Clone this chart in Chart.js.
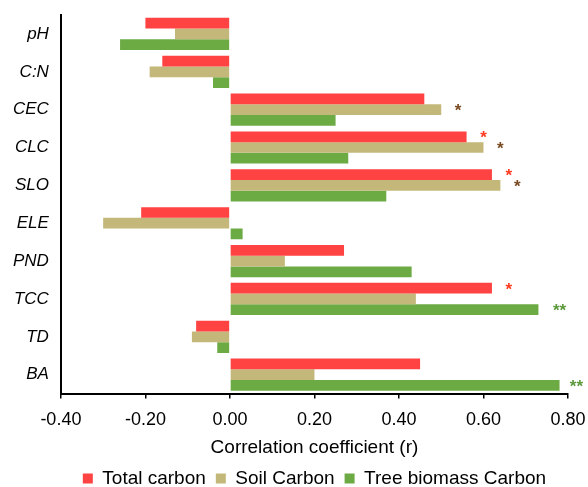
<!DOCTYPE html>
<html>
<head>
<meta charset="utf-8">
<script src="https://cdn.jsdelivr.net/npm/chart.js@4"></script>
<style>
  body { margin: 0; background: #fff; }
  #wrap { width: 588px; height: 487px; }
</style>
</head>
<body>
<div id="wrap"><canvas id="myChart"></canvas></div>
<script>
// data
var labels = ["pH", "C:N", "CEC", "CLC", "SLO", "ELE", "PND", "TCC", "TD", "BA"];
var totalCarbon = [-0.20, -0.16, 0.46, 0.56, 0.62, -0.21, 0.27, 0.62, -0.08, 0.45];
var soilCarbon = [-0.13, -0.19, 0.50, 0.60, 0.64, -0.30, 0.13, 0.44, -0.09, 0.20];
var treeCarbon = [-0.26, -0.04, 0.25, 0.28, 0.37, 0.03, 0.43, 0.73, -0.03, 0.78];
var xTicks = [-0.40, -0.20, 0.00, 0.20, 0.40, 0.60, 0.80];

// significance marks: [category, series index, x position, text]
var stars = [
  ["CEC", 1, 0.54, "*"],
  ["CLC", 0, 0.60, "*"],
  ["CLC", 1, 0.64, "*"],
  ["SLO", 0, 0.66, "*"],
  ["SLO", 1, 0.68, "*"],
  ["TCC", 0, 0.66, "*"],
  ["TCC", 2, 0.78, "**"],
  ["BA", 2, 0.82, "**"]
];
var starColors = ["#ff3b1f", "#7a4a22", "#5c9a3c"];

var starPlugin = {
  id: "stars",
  afterDatasetsDraw: function(chart) {
    var ctx = chart.ctx;
    var xs = chart.scales.x;
    ctx.save();
    ctx.font = "bold 17px 'Liberation Sans', Arial";
    ctx.textAlign = "center";
    ctx.textBaseline = "middle";
    for (var i = 0; i < stars.length; i++) {
      var s = stars[i];
      var idx = labels.indexOf(s[0]);
      var bar = chart.getDatasetMeta(s[1]).data[idx];
      ctx.fillStyle = starColors[s[1]];
      ctx.fillText(s[3], xs.getPixelForValue(s[2]), bar.y + 2);
    }
    ctx.restore();
  }
};

var ctx = document.getElementById("myChart").getContext("2d");
var chart = new Chart(ctx, {
  type: "bar",
  data: {
    labels: labels,
    datasets: [
      { label: "Total carbon", data: totalCarbon, backgroundColor: "#ff4242" },
      { label: "Soil Carbon", data: soilCarbon, backgroundColor: "#c3b87a" },
      { label: "Tree biomass Carbon", data: treeCarbon, backgroundColor: "#6caa44" }
    ]
  },
  options: {
    indexAxis: "y",
    responsive: true,
    maintainAspectRatio: false,
    animation: false,
    layout: { padding: { left: 1, right: 0, top: 0, bottom: -11 } },
    datasets: { bar: { categoryPercentage: 0.85, barPercentage: 1.0 } },
    scales: {
      x: {
        min: -0.4,
        max: 0.8,
        afterBuildTicks: function(axis) {
          axis.ticks = xTicks.map(function(v) { return { value: v }; });
        },
        afterFit: function(axis) {
          axis.paddingRight = 20;
        },
        ticks: {
          color: "#000",
          font: { family: "'Liberation Sans', Arial", size: 18 },
          padding: 11,
          maxRotation: 0,
          callback: function(v) { return Number(v).toFixed(2); }
        },
        grid: { display: true, drawOnChartArea: false, drawTicks: true, tickLength: 5, color: "#000", lineWidth: 1.5 },
        border: { display: true, color: "#000", width: 2 },
        title: {
          display: true,
          text: "Correlation coefficient (r)",
          color: "#000",
          font: { family: "'Liberation Sans', Arial", size: 19 },
          padding: { top: -6, bottom: 0 }
        }
      },
      y: {
        afterFit: function(axis) {
          axis.paddingTop = 15;
        },
        ticks: {
          color: "#000",
          font: { family: "'Liberation Sans', Arial", size: 17, style: "italic" },
          padding: 12
        },
        grid: { display: false, drawTicks: false },
        border: { display: true, color: "#000", width: 2 }
      }
    },
    plugins: {
      legend: {
        position: "bottom",
        fullSize: false,
        labels: {
          color: "#000",
          font: { family: "'Liberation Sans', Arial", size: 19 },
          boxWidth: 10,
          boxHeight: 10,
          padding: 10
        }
      },
      tooltip: { enabled: false }
    }
  },
  plugins: [starPlugin]
});
</script>
</body>
</html>
